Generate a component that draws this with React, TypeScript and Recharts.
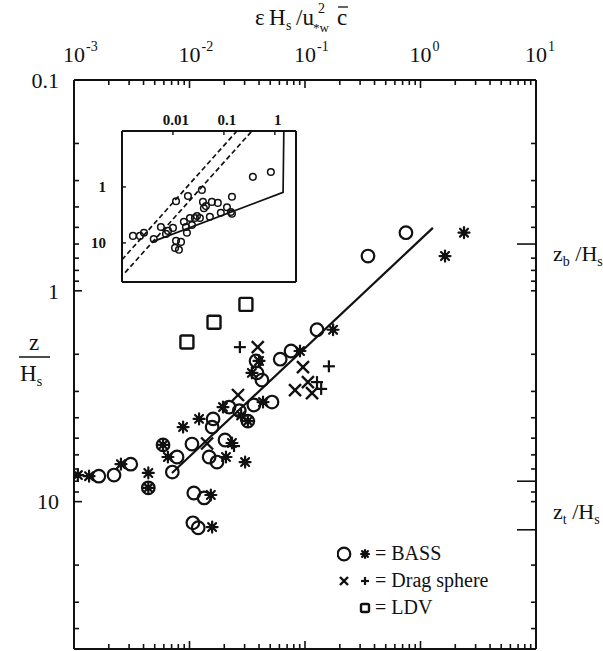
import React from 'react';
import { ScatterChart, Scatter, XAxis, YAxis, Legend } from 'recharts';

const SERIF = 'Liberation Serif, DejaVu Serif, serif';
const INK = '#111';

// main panel: [eps Hs / u*w^2 c,  z / Hs]
const bassCircles = [
  [0.0377, 2.15], [0.061, 2.11], [0.0757, 1.93], [0.0384, 2.45], [0.0424, 2.65],
  [0.0518, 3.37], [0.022, 3.56], [0.0361, 3.48], [0.027, 3.7], [0.016, 4.05],
  [0.0157, 4.43], [0.0105, 5.33], [0.0203, 5.1], [0.0078, 6.14], [0.0148, 6.14],
  [0.0173, 6.49], [0.0071, 7.24], [0.0031, 6.64], [0.00164, 7.57], [0.00222, 7.48],
  [0.0109, 9.1], [0.0134, 9.6], [0.0107, 12.6], [0.0119, 13.3], [0.748, 0.53],
  [0.351, 0.684], [0.127, 1.53], [0.0059, 5.38], [0.0044, 8.6], [0.032, 4.15],
];
const bassStars = [
  [0.04, 2.15], [0.0905, 1.93], [0.0347, 2.45], [0.0433, 3.37], [0.0195, 3.56],
  [0.028, 3.9], [0.0121, 4.05], [0.0088, 4.43], [0.0233, 5.27], [0.0059, 5.38],
  [0.0065, 6.14], [0.0207, 6.14], [0.0303, 6.49], [0.00255, 6.64], [0.00108, 7.48],
  [0.00135, 7.57], [0.0044, 7.31], [0.0044, 8.6], [0.0153, 9.3], [0.0157, 13.2],
  [0.175, 1.53], [1.63, 0.684], [2.38, 0.53], [0.032, 4.15],
];
const dragCross = [
  [0.039, 1.85], [0.096, 2.3], [0.082, 2.96], [0.106, 2.71], [0.115, 3.06],
  [0.0263, 3.12], [0.0142, 5.3],
];
const dragPlus = [
  [0.0273, 1.85], [0.161, 2.28], [0.127, 2.71], [0.138, 2.92], [0.0243, 5.45],
];
const ldv = [[0.0095, 1.75], [0.0163, 1.41], [0.0308, 1.16]];
const fitLine = [[0.00705, 7.31], [1.28, 0.503]];

// inset
const insetCircles = [
  [0.00164, 7.5], [0.00225, 7.5], [0.0027, 6.6], [0.0042, 8.5], [0.0058, 5.2],
  [0.0073, 6.9], [0.008, 6.1], [0.01, 5.4], [0.0115, 1.8], [0.0115, 9.2],
  [0.0144, 9.6], [0.011, 12.3], [0.0131, 13.3], [0.0197, 1.45], [0.0164, 4.2],
  [0.018, 5.2], [0.0188, 6.6], [0.0216, 3.6], [0.0236, 4.8], [0.027, 3.6],
  [0.0296, 3.3], [0.0338, 3.6], [0.037, 1.13], [0.0388, 1.85], [0.0405, 2.4],
  [0.0444, 2.2], [0.053, 3.4], [0.058, 1.85], [0.076, 1.93], [0.087, 2.9],
  [0.115, 2.3], [0.137, 2.8], [0.144, 3.0], [0.144, 1.5], [0.37, 0.66], [0.835, 0.54],
];
const insetDashA = [[0.001, 20], [0.18, 0.1]];
const insetDashB = [[0.00115, 34], [0.355, 0.1]];
const insetFit = [[0.0039, 9.6], [1.45, 1.25], [1.5, 0.1]];

const xLabels = [0.001, 0.01, 0.1, 1, 10];
const yLabels = [0.1, 1, 10];
const insetXLabels = [0.01, 0.1, 1];
const insetYLabels = [1, 10];
const longRight = [0.6, 8, 13.6];
const rightNames: [number, string][] = [[0.6, 'b'], [11, 't']];

const toPts = (a: number[][]) => a.map(([x, y]) => ({ x, y }));
const logTicks = (lo: number, hi: number) => {
  const out: number[] = [];
  for (let e = Math.floor(Math.log10(lo)); e <= Math.ceil(Math.log10(hi)); e++) {
    for (let m = 1; m <= 9; m++) {
      const v = Number((m * Math.pow(10, e)).toPrecision(3));
      if (v >= lo * 0.999 && v <= hi * 1.001) out.push(v);
    }
  }
  return out;
};
const same = (a: number, b: number) => Math.abs(a / b - 1) < 1e-6;
const isDecade = (v: number) => Math.abs(Math.log10(v) - Math.round(Math.log10(v))) < 1e-6;

const xTicks = logTicks(0.001, 10);
const yTicks = logTicks(0.1, 50);
const rightTicks = [...yTicks, 13.6, 11];

const Ring = (p: any) => <circle cx={p.cx} cy={p.cy} r={6.3} fill="none" stroke={INK} strokeWidth={2.2} />;
const SmallRing = (p: any) => <circle cx={p.cx} cy={p.cy} r={3.3} fill="none" stroke={INK} strokeWidth={1.5} />;
const Star = (p: any) => {
  const { cx, cy } = p;
  const r = p.r || 5.5;
  const d = r * 0.72;
  return (
    <g stroke={INK} strokeWidth={2.2} strokeLinecap="round">
      <circle cx={cx} cy={cy} r={r * 0.55} fill={INK} stroke="none" />
      <line x1={cx - r} y1={cy} x2={cx + r} y2={cy} />
      <line x1={cx} y1={cy - r} x2={cx} y2={cy + r} />
      <line x1={cx - d} y1={cy - d} x2={cx + d} y2={cy + d} />
      <line x1={cx - d} y1={cy + d} x2={cx + d} y2={cy - d} />
    </g>
  );
};
const Cross = (p: any) => {
  const { cx, cy } = p;
  const r = p.r || 6;
  return (
    <g stroke={INK} strokeWidth={2.4}>
      <line x1={cx - r} y1={cy - r} x2={cx + r} y2={cy + r} />
      <line x1={cx - r} y1={cy + r} x2={cx + r} y2={cy - r} />
    </g>
  );
};
const Plus = (p: any) => {
  const { cx, cy } = p;
  const r = p.r || 6;
  return (
    <g stroke={INK} strokeWidth={2.2}>
      <line x1={cx - r} y1={cy} x2={cx + r} y2={cy} />
      <line x1={cx} y1={cy - r} x2={cx} y2={cy + r} />
    </g>
  );
};
const Box = (p: any) => {
  const s = p.r || 6.5;
  return <rect x={p.cx - s} y={p.cy - s} width={2 * s} height={2 * s} rx={1.5} fill="none" stroke={INK} strokeWidth={2.4} />;
};
const NoDot = () => <g />;

const TopTick = (p: any) => {
  const { x, y, payload } = p;
  const v = payload.value;
  const major = isDecade(v);
  return (
    <g>
      <line x1={x} y1={y} x2={x} y2={y + (major ? 8 : 5)} stroke={INK} strokeWidth={1.6} />
      {xLabels.some(l => same(l, v)) && (
        <g style={{ fontFamily: SERIF }} fill={INK}>
          <text x={x} y={y - 18} fontSize={22} textAnchor="middle">10</text>
          <text x={x + 12} y={y - 29} fontSize={14}>{Math.round(Math.log10(v))}</text>
        </g>
      )}
    </g>
  );
};
const BottomTick = (p: any) => {
  const { x, y, payload } = p;
  const major = isDecade(payload.value);
  return <line x1={x} y1={y} x2={x} y2={y - (major ? 8 : 5)} stroke={INK} strokeWidth={1.6} />;
};
const LeftTick = (p: any) => {
  const { x, y, payload } = p;
  const v = payload.value;
  const major = isDecade(v);
  return (
    <g>
      <line x1={x} y1={y} x2={x + (major ? 8 : 5)} y2={y} stroke={INK} strokeWidth={1.6} />
      {yLabels.some(l => same(l, v)) && (
        <text x={x - 15} y={y} dy="0.35em" fontSize={22} style={{ fontFamily: SERIF }} fill={INK} textAnchor="end">{v}</text>
      )}
    </g>
  );
};
const RightTick = (p: any) => {
  const { x, y, payload } = p;
  const v = payload.value;
  const isLong = longRight.some(l => same(l, v));
  const isMinor = yTicks.some(l => same(l, v));
  const name = rightNames.find(([l]) => same(l, v));
  return (
    <g>
      {(isLong || isMinor) && (
        <line x1={x} y1={y} x2={x - (isLong ? 19 : 5)} y2={y} stroke={INK} strokeWidth={1.6} />
      )}
      {name && (
        <text x={x + 17} y={y + (name[1] === 'b' ? 17 : 9)} fontSize={22} style={{ fontFamily: SERIF }} fill={INK}>
          z<tspan dy={5} fontSize={14}>{name[1]}</tspan>
          <tspan dy={-5}> /H</tspan>
          <tspan dy={5} fontSize={14}>s</tspan>
        </text>
      )}
    </g>
  );
};

const InsetTop = (p: any) => {
  const { x, y, payload } = p;
  return (
    <g>
      <line x1={x} y1={y} x2={x} y2={y + 4} stroke={INK} strokeWidth={1.4} />
      <text x={x + 3} y={y - 6} fontSize={15} fontWeight={700} style={{ fontFamily: SERIF }} fill={INK} textAnchor="middle">{payload.value}</text>
    </g>
  );
};
const InsetLeft = (p: any) => {
  const { x, y, payload } = p;
  return (
    <g>
      <line x1={x} y1={y} x2={x + 4} y2={y} stroke={INK} strokeWidth={1.4} />
      <text x={x - 16} y={y} dy="0.35em" fontSize={15} fontWeight={700} style={{ fontFamily: SERIF }} fill={INK} textAnchor="end">{payload.value}</text>
    </g>
  );
};

const legendRows = [
  { marks: [Ring, Star], text: '= BASS' },
  { marks: [Cross, Plus], text: '= Drag sphere' },
  { marks: [null, Box], text: '= LDV' },
];
const LegendBox = () => (
  <div style={{ fontFamily: SERIF, fontSize: 20, color: INK }}>
    {legendRows.map((row, i) => (
      <div key={i} style={{ display: 'flex', alignItems: 'center', height: 27 }}>
        <svg width={38} height={20}>
          {row.marks.map((M: any, j) => M && <M key={j} cx={7 + j * 21} cy={10} r={4} />)}
        </svg>
        <span>{row.text}</span>
      </div>
    ))}
  </div>
);

const frame = { stroke: INK, strokeWidth: 2 };

export default function App() {
  return (
    <div style={{ position: 'absolute', left: 0, top: 0, width: 603, height: 651, background: '#fff' }}>
      <div style={{ position: 'absolute', left: 0, top: 0 }}>
        <ScatterChart width={603} height={651} margin={{ top: 0, right: 0, bottom: 0, left: 0 }}>
          <XAxis xAxisId="t" orientation="top" type="number" dataKey="x" scale="log" domain={[0.001, 10]}
            allowDataOverflow ticks={xTicks} interval={0} height={80} axisLine={frame}
            tickLine={false} tickSize={0} tickMargin={0} tick={TopTick} />
          <XAxis xAxisId="b" orientation="bottom" type="number" dataKey="x" scale="log" domain={[0.001, 10]}
            allowDataOverflow ticks={xTicks} interval={0} height={2} axisLine={frame}
            tickLine={false} tickSize={0} tickMargin={0} tick={BottomTick} />
          <YAxis yAxisId="l" orientation="left" type="number" dataKey="y" scale="log" domain={[0.1, 50]} reversed
            allowDataOverflow ticks={yTicks} interval={0} width={74} axisLine={frame}
            tickLine={false} tickSize={0} tickMargin={0} tick={LeftTick} />
          <YAxis yAxisId="r" orientation="right" type="number" dataKey="y" scale="log" domain={[0.1, 50]} reversed
            allowDataOverflow ticks={rightTicks} interval={0} width={67} axisLine={frame}
            tickLine={false} tickSize={0} tickMargin={0} tick={RightTick} />
          <Scatter xAxisId="t" yAxisId="l" data={toPts(fitLine)} line={{ stroke: INK, strokeWidth: 2.2 }} shape={NoDot} isAnimationActive={false} />
          <Scatter xAxisId="t" yAxisId="l" data={toPts(ldv)} shape={Box} isAnimationActive={false} />
          <Scatter xAxisId="t" yAxisId="l" data={toPts(dragCross)} shape={Cross} isAnimationActive={false} />
          <Scatter xAxisId="t" yAxisId="l" data={toPts(dragPlus)} shape={Plus} isAnimationActive={false} />
          <Scatter xAxisId="t" yAxisId="l" data={toPts(bassCircles)} shape={Ring} isAnimationActive={false} />
          <Scatter xAxisId="t" yAxisId="l" data={toPts(bassStars)} shape={Star} isAnimationActive={false} />
          <Legend layout="horizontal" verticalAlign="middle" align="center" content={LegendBox}
            wrapperStyle={{ position: 'absolute', left: 337, top: 540, width: 'auto' }} />
        </ScatterChart>
      </div>

      <div style={{ position: 'absolute', left: 0, top: 0 }}>
        <ScatterChart width={320} height={300} margin={{ top: 0, right: 23, bottom: 17, left: 0 }}>
          <XAxis xAxisId="t" orientation="top" type="number" dataKey="x" scale="log" domain={[0.001, 2.6]}
            allowDataOverflow ticks={insetXLabels} interval={0} height={131} axisLine={frame}
            tickLine={false} tickSize={0} tickMargin={0} tick={InsetTop} />
          <XAxis xAxisId="b" orientation="bottom" type="number" dataKey="x" scale="log" domain={[0.001, 2.6]}
            allowDataOverflow height={1} axisLine={frame} tick={false} tickLine={false} />
          <YAxis yAxisId="l" orientation="left" type="number" dataKey="y" scale="log" domain={[0.1, 50]} reversed
            allowDataOverflow ticks={insetYLabels} interval={0} width={122} axisLine={frame}
            tickLine={false} tickSize={0} tickMargin={0} tick={InsetLeft} />
          <YAxis yAxisId="r" orientation="right" type="number" dataKey="y" scale="log" domain={[0.1, 50]} reversed
            allowDataOverflow width={1} axisLine={frame} tick={false} tickLine={false} />
          <Scatter xAxisId="t" yAxisId="l" data={toPts(insetDashA)} line={{ stroke: INK, strokeWidth: 1.7, strokeDasharray: '5 3' }} shape={NoDot} isAnimationActive={false} />
          <Scatter xAxisId="t" yAxisId="l" data={toPts(insetDashB)} line={{ stroke: INK, strokeWidth: 1.7, strokeDasharray: '5 3' }} shape={NoDot} isAnimationActive={false} />
          <Scatter xAxisId="t" yAxisId="l" data={toPts(insetFit)} line={{ stroke: INK, strokeWidth: 1.7 }} shape={NoDot} isAnimationActive={false} />
          <Scatter xAxisId="t" yAxisId="l" data={toPts(insetCircles)} shape={SmallRing} isAnimationActive={false} />
        </ScatterChart>
      </div>

      <svg width={603} height={651} style={{ position: 'absolute', left: 0, top: 0, pointerEvents: 'none', fontFamily: SERIF }}
        fill={INK}>
        <text y={25} fontSize={23}>
          <tspan x={255}>ε</tspan>
          <tspan x={269}>H</tspan>
          <tspan x={286} dy={5} fontSize={14}>s</tspan>
          <tspan x={296} dy={-5}>/u</tspan>
          <tspan x={318} dy={-12} fontSize={14}>2</tspan>
          <tspan x={313} dy={19} fontSize={13}>*w</tspan>
          <tspan x={337} dy={-7}>c</tspan>
        </text>
        <line x1={338} y1={7} x2={348} y2={7} stroke={INK} strokeWidth={1.3} />
        <text x={34} y={350} fontSize={23} textAnchor="middle">z</text>
        <line x1={19} y1={357} x2={50} y2={357} stroke={INK} strokeWidth={1.5} />
        <text x={20} y={381} fontSize={23}>H<tspan dy={5} fontSize={14}>s</tspan></text>
      </svg>
    </div>
  );
}
